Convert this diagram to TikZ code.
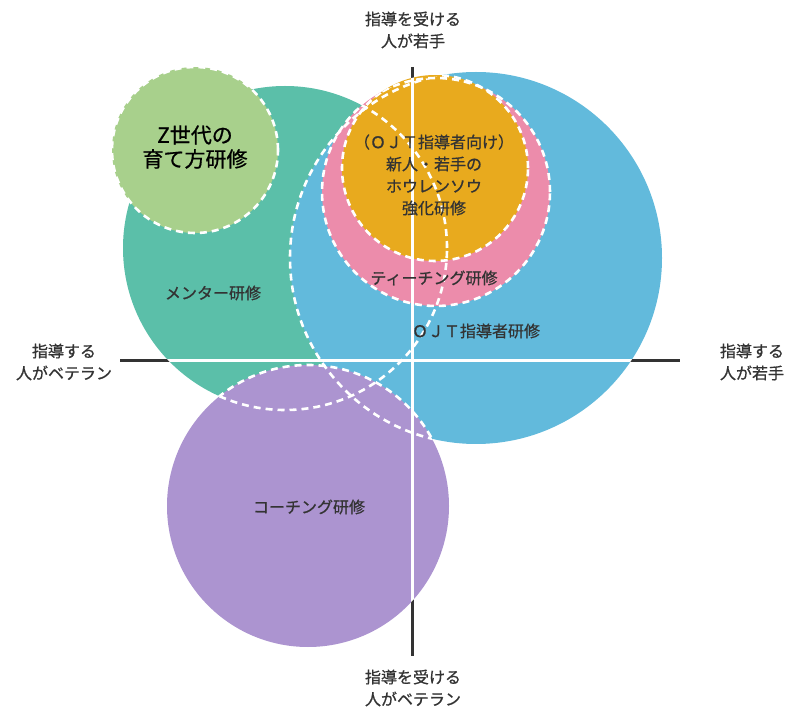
\documentclass[tikz,border=0pt]{standalone}
\usepackage{fontspec}
\setmainfont{Noto Sans CJK JP}
\newfontfamily\labelfont[FakeBold=0.8]{Noto Sans CJK JP}
\usetikzlibrary{positioning}

\definecolor{mentorgreen}{HTML}{5BBFA9}
\definecolor{ojtblue}{HTML}{62BADC}
\definecolor{teachpink}{HTML}{EC8CAB}
\definecolor{horenorange}{HTML}{E8AA1E}
\definecolor{zgreen}{HTML}{A8D08C}
\definecolor{coachpurple}{HTML}{AC94D0}
\definecolor{inkgray}{HTML}{333333}

\begin{document}
\begin{tikzpicture}[x=1pt, y=-1pt,
	every node/.style={text=inkgray, align=center, inner sep=0pt, font=\labelfont\fontsize{16}{22}\selectfont},
	rim/.style={draw=white, line width=2.6pt, dash pattern=on 7pt off 5pt},
	axis/.style={inkgray, line width=3pt}]

	\useasboundingbox (0,0) rectangle (798,708);

	% fills
	\fill[mentorgreen] (285,248) circle[radius=162pt];
	\fill[ojtblue] (476,258) circle[radius=186pt];
	\fill[coachpurple] (308,506) circle[radius=141pt];
	\fill[teachpink] (436,192) circle[radius=114pt];
	\fill[horenorange] (435,168) circle[radius=93pt];

	% axes
	\draw[axis] (412,67) -- (412,656);
	\draw[axis] (120,361) -- (680,361);
	\begin{scope}
		\clip (285,248) circle[radius=162pt] (476,258) circle[radius=186pt]
			(308,506) circle[radius=141pt] (436,192) circle[radius=114pt]
			(435,168) circle[radius=93pt];
		\draw[white, line width=3pt] (412,67) -- (412,656);
		\draw[white, line width=3pt] (120,361) -- (680,361);
	\end{scope}

	% dashed rims, only where they cross another circle
	\begin{scope}
		\clip (285,248) circle[radius=162pt] (308,506) circle[radius=141pt]
			(436,192) circle[radius=114pt];
		\draw[rim] (476,258) circle[radius=186pt];
	\end{scope}
	\begin{scope}
		\clip (285,248) circle[radius=162pt] (476,258) circle[radius=186pt];
		\draw[rim] (308,506) circle[radius=141pt];
	\end{scope}
	\begin{scope}
		\clip (285,248) circle[radius=162pt] (476,258) circle[radius=186pt]
			(435,168) circle[radius=93pt];
		\draw[rim] (436,192) circle[radius=114pt];
	\end{scope}
	\begin{scope}
		\clip (285,248) circle[radius=162pt] (476,258) circle[radius=186pt]
			(436,192) circle[radius=114pt];
		\draw[rim] (435,168) circle[radius=93pt];
	\end{scope}
	\begin{scope}
		\clip (476,258) circle[radius=186pt] (308,506) circle[radius=141pt]
			(436,192) circle[radius=114pt] (435,168) circle[radius=93pt];
		\draw[rim] (285,248) circle[radius=162pt];
	\end{scope}
	\fill[zgreen] (195,150) circle[radius=83pt];
	\draw[rim] (195,150) circle[radius=83pt];

	% labels
	\node (topaxis) at (413,30) {指導を受ける\\人が若手};
	\node (bottomaxis) at (413,688) {指導を受ける\\人がベテラン};
	\node (leftaxis) at (64,362) {指導する\\人がベテラン};
	\node (rightaxis) at (752,362) {指導する\\人が若手};

	\node[text=black, font=\labelfont\fontsize{21}{24}\selectfont] (zgen) at (195,147) {Z世代の\\育て方研修};
	\node (horen) at (434,175) {（ＯＪＴ指導者向け）\\新人・若手の\\ホウレンソウ\\強化研修};
	\node (teach) at (434,278) {ティーチング研修};
	\node (ojt) at (476,331) {ＯＪＴ指導者研修};
	\node (mentor) at (213,293) {メンター研修};
	\node (coach) at (309,507) {コーチング研修};
\end{tikzpicture}
\end{document}
